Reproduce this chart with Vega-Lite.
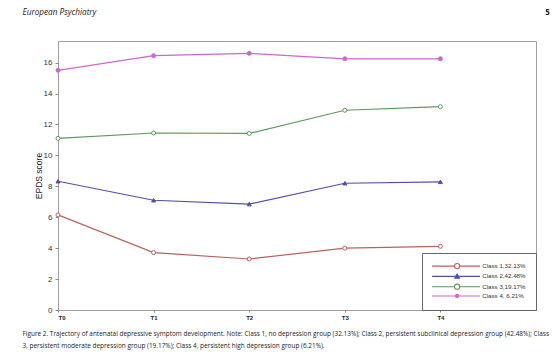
{
  "$schema": "https://vega.github.io/schema/vega-lite/v6.json",
  "width": 478,
  "height": 269,
  "autosize": {"type": "none"},
  "padding": {"left": 58, "top": 41, "right": 17, "bottom": 42},
  "background": "white",
  "config": {
    "font": "Liberation Sans",
    "view": {"stroke": "#a0a0a0", "strokeWidth": 1}
  },
  "data": {
    "values": [
      {"time": 0, "class": "Class 1,32.13%", "score": 6.15},
      {"time": 1, "class": "Class 1,32.13%", "score": 3.71},
      {"time": 2, "class": "Class 1,32.13%", "score": 3.3},
      {"time": 3, "class": "Class 1,32.13%", "score": 4.0},
      {"time": 4, "class": "Class 1,32.13%", "score": 4.12},
      {"time": 0, "class": "Class 2,42.48%", "score": 8.33},
      {"time": 1, "class": "Class 2,42.48%", "score": 7.1},
      {"time": 2, "class": "Class 2,42.48%", "score": 6.85},
      {"time": 3, "class": "Class 2,42.48%", "score": 8.2},
      {"time": 4, "class": "Class 2,42.48%", "score": 8.29},
      {"time": 0, "class": "Class 3,19.17%", "score": 11.1},
      {"time": 1, "class": "Class 3,19.17%", "score": 11.45},
      {"time": 2, "class": "Class 3,19.17%", "score": 11.42},
      {"time": 3, "class": "Class 3,19.17%", "score": 12.92},
      {"time": 4, "class": "Class 3,19.17%", "score": 13.15},
      {"time": 0, "class": "Class 4, 6.21%", "score": 15.5},
      {"time": 1, "class": "Class 4, 6.21%", "score": 16.45},
      {"time": 2, "class": "Class 4, 6.21%", "score": 16.6},
      {"time": 3, "class": "Class 4, 6.21%", "score": 16.25},
      {"time": 4, "class": "Class 4, 6.21%", "score": 16.25}
    ]
  },
  "layer": [
    {
      "mark": {"type": "line", "strokeWidth": 1.2},
      "encoding": {
        "x": {
          "field": "time", "type": "quantitative",
          "scale": {"domain": [0, 5], "nice": false},
          "axis": {
            "orient": "bottom", "values": [0, 1, 2, 3, 4], "grid": false, "domain": false,
            "labelExpr": "'T' + datum.value", "labelFontSize": 6, "labelFontWeight": "bold",
            "labelColor": "#222", "labelPadding": 2, "tickSize": 2, "tickColor": "#888",
            "title": ["Figure 2.  Trajectory of antenatal depressive symptom development. Note: Class 1, no depression group (32.13%); Class 2, persistent subclinical depression group (42.48%); Class", "3, persistent moderate depression group (19.17%); Class 4, persistent high depression group (6.21%)."],
            "titleFont": "Open Sans", "titleFontSize": 6.45, "titleFontWeight": "normal", "titleColor": "#222",
            "titleAnchor": "start", "titleAlign": "left", "titleBaseline": "alphabetic",
            "titleX": -36, "titleY": 25.5, "titleLineHeight": 11.5
          }
        },
        "y": {
          "field": "score", "type": "quantitative",
          "scale": {"domain": [0, 17.4], "nice": false},
          "axis": {
            "orient": "left", "values": [0, 2, 4, 6, 8, 10, 12, 14, 16], "grid": false, "domain": false,
            "labelFontSize": 8, "labelColor": "#333", "labelPadding": 3, "tickSize": 3, "tickColor": "#888",
            "title": "EPDS score", "titleFontSize": 8.5, "titleFontWeight": "normal", "titleColor": "#222",
            "titlePadding": 0
          }
        },
        "stroke": {
          "field": "class", "type": "nominal",
          "scale": {"range": ["#b8625c", "#4f4fae", "#5f985f", "#cf66cf"]},
          "legend": {
            "orient": "bottom-right", "offset": 0, "title": null, "padding": 10,
            "strokeColor": "#666", "fillColor": "white", "cornerRadius": 0,
            "symbolSize": 16, "symbolOffset": 22, "labelFontSize": 6.2, "labelColor": "#333", "labelOffset": 22, "rowPadding": 0.3,
            "encode": {
              "symbols": {
                "update": {
                  "shape": {"signal": "datum.value === 'Class 1,32.13%' || datum.value === 'Class 3,19.17%' ? 'M-12.5,0H-1.3M1.3,0H11.5M-1.3,0A1.3,1.3 0 1 0 1.3,0A1.3,1.3 0 1 0 -1.3,0Z' : datum.value === 'Class 2,42.48%' ? 'M-12.5,0H11.5M0,-1.2L1.2,0.9L-1.2,0.9Z' : 'M-12.5,0H11.5M-0.8,0A0.8,0.8 0 1 0 0.8,0A0.8,0.8 0 1 0 -0.8,0Z'"},
                  "fill": {"signal": "datum.value === 'Class 2,42.48%' ? '#4f4fae' : datum.value === 'Class 4, 6.21%' ? '#cf66cf' : '#ffffff'"},
                  "strokeWidth": {"value": 1.1},
                  "opacity": {"value": 1}
                }
              }
            }
          }
        }
      }
    },
    {
      "mark": {"type": "point", "size": 16, "strokeWidth": 1, "opacity": 1},
      "encoding": {
        "x": {
          "field": "time", "type": "quantitative",
          "axis": {
            "orient": "top", "labels": false, "ticks": false, "domain": false, "grid": false,
            "title": "European Psychiatry", "titleFont": "Open Sans", "titleFontSize": 8.2,
            "titleFontStyle": "italic", "titleFontWeight": "normal", "titleColor": "#222",
            "titleAnchor": "start", "titleAlign": "left", "titleBaseline": "alphabetic",
            "titleX": -36, "titleY": -26.5
          }
        },
        "y": {
          "field": "score", "type": "quantitative",
          "axis": {
            "orient": "right", "labels": false, "ticks": false, "domain": false, "grid": false,
            "title": "5", "titleFont": "Open Sans", "titleFontSize": 8, "titleFontWeight": "bold",
            "titleColor": "#222", "titleAngle": 0, "titleAlign": "center", "titleBaseline": "alphabetic",
            "titleX": 11, "titleY": -26.5
          }
        },
        "stroke": {"field": "class", "type": "nominal"},
        "fill": {
          "field": "class", "type": "nominal",
          "scale": {"range": ["#ffffff", "#4f4fae", "#ffffff", "#cf66cf"]},
          "legend": null
        },
        "shape": {
          "field": "class", "type": "nominal",
          "scale": {"range": ["circle", "triangle-up", "circle", "circle"]},
          "legend": null
        }
      }
    }
  ],
  "resolve": {"axis": {"x": "independent", "y": "independent"}}
}
